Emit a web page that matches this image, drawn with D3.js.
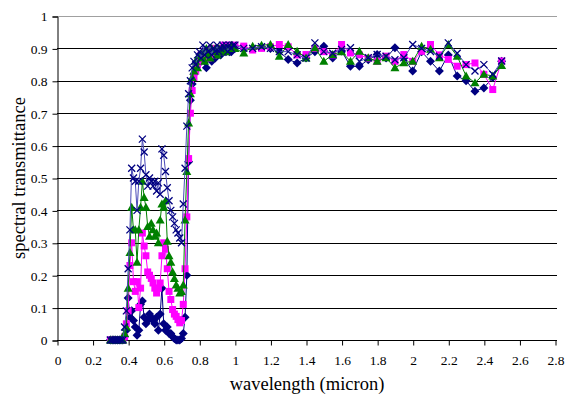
<!DOCTYPE html>
<html><head><meta charset="utf-8">
<script src="https://cdn.jsdelivr.net/npm/d3@7"></script>
<style>body{margin:0;background:#fff}svg{display:block}</style>
</head><body><svg id="c" width="569" height="399"></svg>
<script>
const wavelength = [0.30,0.31,0.32,0.33,0.34,0.35,0.36,0.37,0.38,0.39,0.40,0.41,0.42,0.43,0.44,0.45,0.46,0.47,0.48,0.49,0.50,0.51,0.52,0.53,0.54,0.55,0.56,0.57,0.58,0.59,0.60,0.61,0.62,0.63,0.64,0.65,0.66,0.67,0.68,0.69,0.70,0.71,0.72,0.73,0.74,0.75,0.76,0.77,0.78,0.79,0.80,0.81,0.82,0.83,0.84,0.85,0.86,0.87,0.88,0.89,0.90,0.91,0.92,0.93,0.94,0.95,0.96,0.97,0.98,0.99,1.00,
1.05,1.10,1.15,1.20,1.25,1.30,1.35,1.40,1.45,1.50,1.55,1.60,1.65,1.70,1.75,1.80,1.85,1.90,1.95,2.00,2.05,2.10,2.15,2.20,2.25,2.30,2.35,2.40,2.45,2.50];

const seriesDiamond = [0,0,0,0,0,0,0,0,0.01,0.03,0.13,0.07,0.09,0.06,0.04,0.015,0.03,0.11,0.12,0.07,0.05,0.06,0.08,0.07,0.06,0.05,0.07,0.03,0.08,0.16,0.05,0.03,0.04,0.02,0.02,0.01,0.005,0,0,0,0.005,0.02,0.07,0.20,0.55,0.74,
0.79,0.82,0.84,0.85,0.87,0.86,0.88,0.86,0.84,0.87,0.88,0.86,0.89,0.87,0.88,0.89,0.88,0.89,0.90,0.89,0.90,0.89,0.89,0.90,0.90,
0.90,0.90,0.905,0.90,0.89,0.866,0.855,0.87,0.89,0.907,0.87,0.892,0.845,0.845,0.865,0.881,0.87,0.902,0.87,0.83,0.89,0.86,0.83,0.88,0.815,0.80,0.768,0.778,0.81,0.86];

const seriesSquare = [0,0,0,0,0,0,0,0,0.01,0.05,0.09,0.23,0.30,0.18,0.15,0.18,0.10,0.16,0.33,0.29,0.26,0.21,0.20,0.19,0.176,0.16,0.145,0.16,0.176,0.26,0.30,0.28,0.22,0.15,0.125,0.094,0.08,0.073,0.063,0.053,0.06,0.11,0.22,0.38,0.56,0.70,
0.77,0.81,0.83,0.85,0.86,0.88,0.87,0.89,0.88,0.87,0.89,0.90,0.88,0.90,0.89,0.90,0.89,0.90,0.91,0.90,0.90,0.91,0.90,0.90,0.91,
0.907,0.895,0.90,0.905,0.912,0.905,0.88,0.881,0.90,0.89,0.88,0.912,0.886,0.88,0.87,0.86,0.876,0.86,0.881,0.86,0.891,0.912,0.88,0.866,0.845,0.85,0.855,0.82,0.773,0.861];

const seriesTriangle = [0,0,0,0,0,0,0,0,0.02,0.04,0.16,0.27,0.41,0.34,0.34,0.24,0.34,0.41,0.49,0.44,0.41,0.35,0.32,0.36,0.34,0.32,0.33,0.30,0.37,0.42,0.41,0.43,0.305,0.26,0.24,0.21,0.19,0.17,0.16,0.145,0.15,0.17,0.37,0.52,0.67,0.76,
0.81,0.83,0.86,0.84,0.88,0.87,0.89,0.86,0.90,0.88,0.87,0.90,0.89,0.90,0.88,0.90,0.89,0.90,0.90,0.89,0.90,0.90,0.91,0.90,0.90,
0.886,0.907,0.91,0.912,0.876,0.912,0.891,0.87,0.902,0.86,0.881,0.89,0.86,0.891,0.871,0.86,0.871,0.84,0.856,0.86,0.907,0.897,0.871,0.912,0.876,0.815,0.794,0.82,0.815,0.847];

const seriesCross = [0,0,0,0,0,0,0,0,0.04,0.09,0.22,0.34,0.53,0.50,0.49,0.40,0.49,0.53,0.62,0.58,0.51,0.475,0.50,0.49,0.475,0.49,0.46,0.485,0.45,0.59,0.57,0.52,0.47,0.43,0.40,0.38,0.36,0.34,0.33,0.315,0.30,0.42,0.53,0.66,0.76,0.80,
0.84,0.86,0.85,0.88,0.89,0.87,0.91,0.88,0.90,0.89,0.91,0.88,0.90,0.89,0.91,0.89,0.90,0.91,0.90,0.91,0.89,0.91,0.90,0.91,0.91,
0.90,0.90,0.905,0.90,0.89,0.89,0.88,0.87,0.917,0.89,0.885,0.897,0.902,0.86,0.871,0.881,0.876,0.865,0.871,0.912,0.90,0.89,0.876,0.917,0.885,0.85,0.83,0.85,0.82,0.861];

const xTicks = [0,0.2,0.4,0.6,0.8,1,1.2,1.4,1.6,1.8,2,2.2,2.4,2.6,2.8];
const xTickLabels = ["0","0.2","0.4","0.6","0.8","1","1.2","1.4","1.6","1.8","2","2.2","2.4","2.6","2.8"];
const yTicks = [0,0.1,0.2,0.3,0.4,0.5,0.6,0.7,0.8,0.9,1];
const yTickLabels = ["0","0.1","0.2","0.3","0.4","0.5","0.6","0.7","0.8","0.9","1"];
const xTitle = "wavelength (micron)";
const yTitle = "spectral transmittance";

const FONT = "Liberation Serif";
const svg = d3.select("#c");
const x = d3.scaleLinear().domain([0,2.8]).range([57,555]);
const y = d3.scaleLinear().domain([0,1]).range([340,16]);
const plotRight = 557;
const snap = v => Math.round(v) + 0.5;

svg.append("g").selectAll("line").data(yTicks.filter(d => d > 0)).join("line")
  .attr("x1", 57).attr("x2", plotRight)
  .attr("y1", d => snap(y(d))).attr("y2", d => snap(y(d)))
  .attr("stroke", d => d === 1 ? "#a0a0a0" : "#000").attr("stroke-width", 1);

const yAxis = d3.axisLeft(y).tickValues(yTicks).tickSize(5).tickPadding(5)
  .tickFormat((d,i) => yTickLabels[i]);
const gy = svg.append("g").attr("transform", "translate(57.5,0.5)").call(yAxis);
const xAxis = d3.axisBottom(x).tickValues(xTicks).tickSize(5).tickPadding(10)
  .tickFormat((d,i) => xTickLabels[i]);
const gx = svg.append("g").attr("transform", "translate(0.5," + snap(y(0)) + ")").call(xAxis);
[gx, gy].forEach(g => {
  g.select(".domain").attr("stroke", "#000");
  g.selectAll(".tick line").attr("stroke", "#000");
  g.selectAll(".tick text").attr("fill", "#000")
    .style("font-family", FONT).style("font-size", "13.5px");
});
gx.select(".domain").attr("d", "M56.5,0H" + (plotRight-0.5));

svg.append("text").attr("x", 307).attr("y", 390).attr("text-anchor", "middle")
  .style("font-family", FONT).style("font-size", "18.5px").text(xTitle);
svg.append("text").attr("transform", "translate(25,178) rotate(-90)").attr("text-anchor", "middle")
  .style("font-family", FONT).style("font-size", "18.5px").text(yTitle);

const series = [
  {vals: seriesDiamond, line: "#000080", fill: "#000080", shape: "diamond"},
  {vals: seriesSquare, line: "#ff00ff", fill: "#ff00ff", shape: "square"},
  {vals: seriesTriangle, line: "#008000", fill: "#008000", shape: "triangle"},
  {vals: seriesCross, line: "#4a4ab8", fill: "none", shape: "cross"}
];
const shapes = {
  diamond: "M0,-4.5L4.5,0L0,4.5L-4.5,0Z",
  square: "M-3.5,-3.5H3.5V3.5H-3.5Z",
  triangle: "M0,-4.5L4.5,3.5L-4.5,3.5Z",
  cross: "M-3.5,-3.5L3.5,3.5M-3.5,3.5L3.5,-3.5"
};
const lineGen = d3.line().x(d => x(d[0])).y(d => y(d[1]));
series.forEach(s => {
  const pts = wavelength.map((w,i) => [w, s.vals[i]]);
  const g = svg.append("g");
  g.append("path").attr("d", lineGen(pts)).attr("fill", "none")
    .attr("stroke", s.line).attr("stroke-width", 1);
  g.selectAll("path.m").data(pts).join("path").attr("class", "m")
    .attr("transform", d => "translate(" + x(d[0]) + "," + y(d[1]) + ")")
    .attr("d", shapes[s.shape])
    .attr("fill", s.fill)
    .attr("stroke", s.shape === "cross" ? "#000080" : "none")
    .attr("stroke-width", s.shape === "cross" ? 1.3 : 0);
});
</script></body></html>
